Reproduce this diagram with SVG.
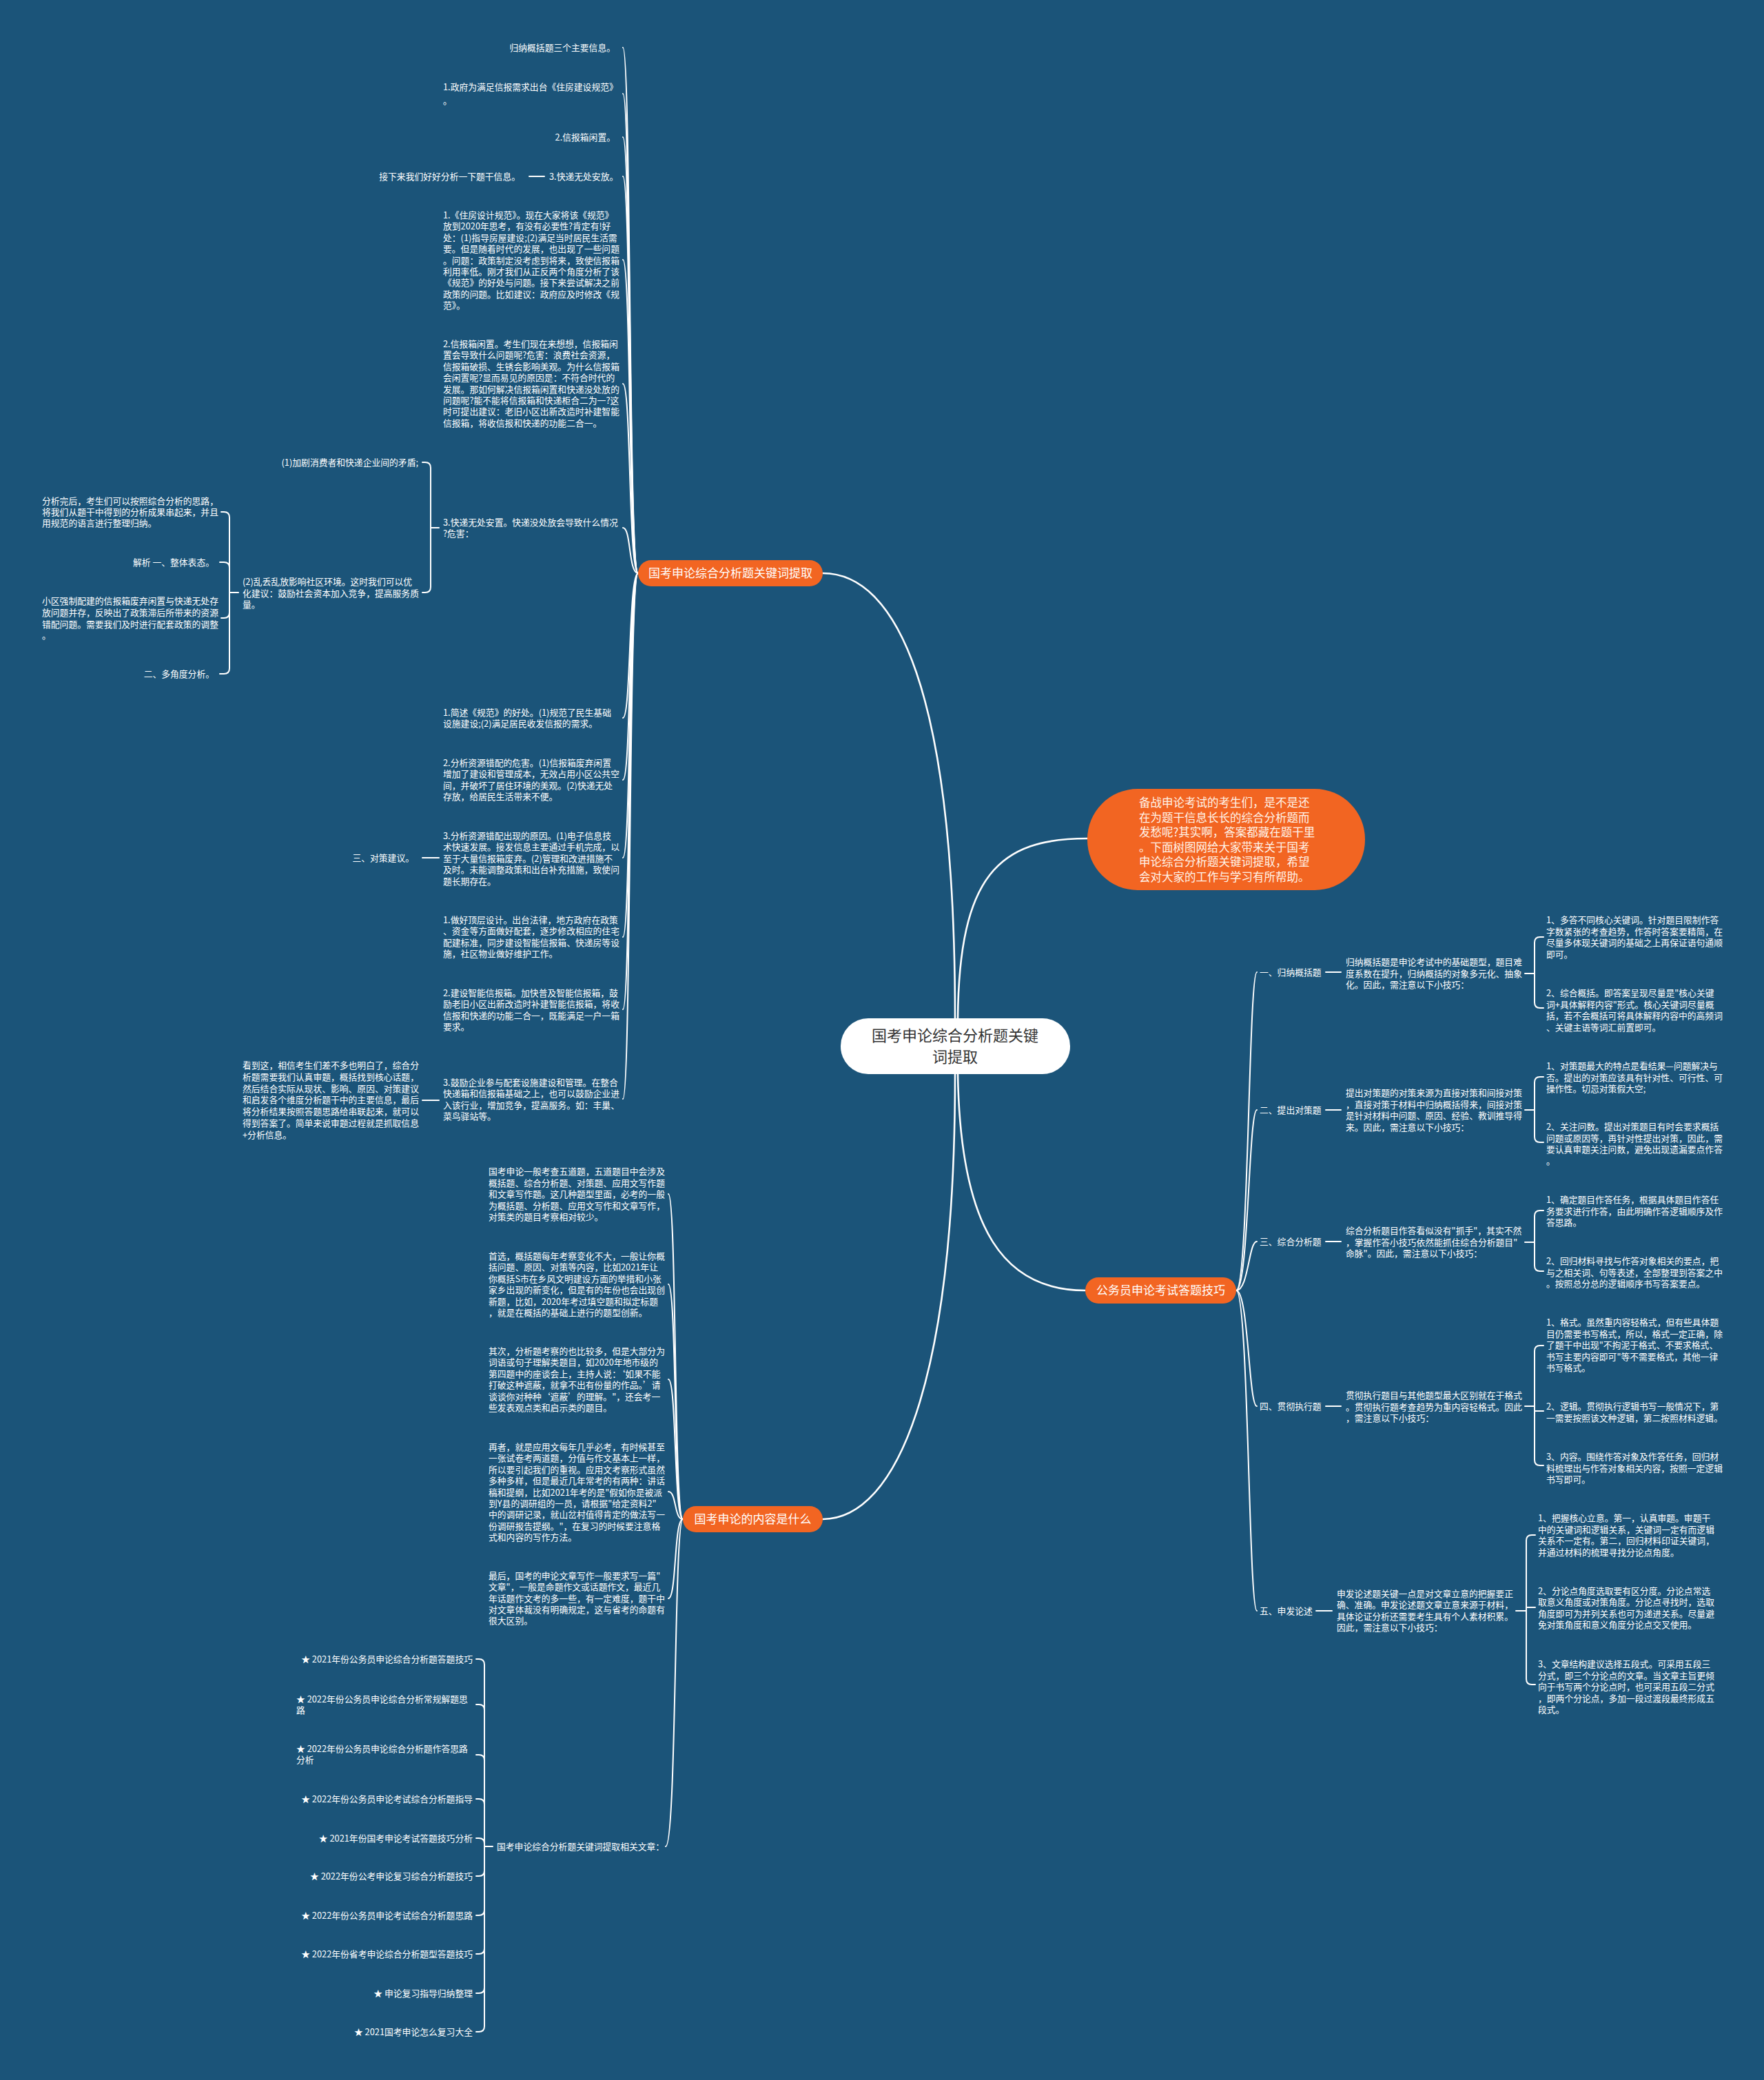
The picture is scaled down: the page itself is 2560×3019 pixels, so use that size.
<svg xmlns="http://www.w3.org/2000/svg" width="2560" height="3019" viewBox="0 0 2560 3019">
<style>
.t{font-family:"Noto Sans CJK SC","Microsoft YaHei",sans-serif;font-size:12.8px;fill:#ffffff}
.e{text-anchor:end}
.m{text-anchor:middle}
.b{font-size:17px}
.c{font-size:22px;fill:#333333}
.i{font-size:16.5px;fill:#fff4ea}
.ln{fill:none;stroke:#ffffff;stroke-width:2;stroke-linecap:round}
.mn{fill:none;stroke:#ffffff;stroke-width:2.6;stroke-linecap:round}
.pill{fill:#f26522}
</style>
<rect x="0" y="0" width="2560" height="3019" fill="#1b5479"/>

<g id="connectors">
<path class="mn" d="M1386,1478 C1386,1000 1300,832 1194,832"/>
<path class="mn" d="M1390,1478 C1392,1270 1450,1217 1578,1217"/>
<path class="mn" d="M1390,1559 C1394,1790 1460,1873 1575,1873"/>
<path class="mn" d="M1386,1559 C1386,2010 1300,2205 1194,2205"/>
<!-- branch 1 -->
<path class="ln" d="M926,832 C912,832 916,69 904,69"/>
<path class="ln" d="M926,832 C912,832 916,136 904,136"/>
<path class="ln" d="M926,832 C912,832 916,199 904,199"/>
<path class="ln" d="M926,832 C912,832 916,256 904,256"/>
<path class="ln" d="M926,832 C912,832 916,377 904,377"/>
<path class="ln" d="M926,832 C912,832 916,557 904,557"/>
<path class="ln" d="M926,832 C912,832 916,766 904,766"/>
<path class="ln" d="M926,832 C912,832 916,1042 904,1042"/>
<path class="ln" d="M926,832 C912,832 916,1132 904,1132"/>
<path class="ln" d="M926,832 C912,832 916,1245 904,1245"/>
<path class="ln" d="M926,832 C912,832 916,1360 904,1360"/>
<path class="ln" d="M926,832 C912,832 916,1465 904,1465"/>
<path class="ln" d="M926,832 C912,832 916,1595 904,1595"/>
<path class="ln" d="M768,256 H790"/>
<path class="ln" d="M637,766 H625"/>
<path class="ln" d="M625,766 V679 Q625,671 617,671 H613"/>
<path class="ln" d="M625,766 V852 Q625,860 617,860 H613"/>
<path class="ln" d="M346,860 H333"/>
<path class="ln" d="M333,860 V751 Q333,743 325,743 H321"/>
<path class="ln" d="M333,860 V824 Q333,816 325,816 H319"/>
<path class="ln" d="M333,860 V889 Q333,897 325,897 H321"/>
<path class="ln" d="M333,860 V970 Q333,978 325,978 H319"/>
<path class="ln" d="M613,1245 H637"/>
<path class="ln" d="M613,1597 H637"/>
<!-- branch 4 -->
<path class="ln" d="M991,2205 C978,2205 982,1733 970,1733"/>
<path class="ln" d="M991,2205 C978,2205 982,1864 970,1864"/>
<path class="ln" d="M991,2205 C978,2205 982,2002 970,2002"/>
<path class="ln" d="M991,2205 C978,2205 982,2165 970,2165"/>
<path class="ln" d="M991,2205 C978,2205 982,2320 970,2320"/>
<path class="ln" d="M991,2205 C978,2205 982,2680 966,2680"/>
<path class="ln" d="M715,2680 H703"/>
<path class="ln" d="M703,2680 V2416 Q703,2408 695,2408 H691"/>
<path class="ln" d="M703,2680 V2482 Q703,2474 695,2474 H691"/>
<path class="ln" d="M703,2680 V2555 Q703,2547 695,2547 H691"/>
<path class="ln" d="M703,2680 V2619 Q703,2611 695,2611 H691"/>
<path class="ln" d="M703,2680 V2676 Q703,2668 695,2668 H691"/>
<path class="ln" d="M703,2680 V2715 Q703,2723 695,2723 H691"/>
<path class="ln" d="M703,2680 V2772 Q703,2780 695,2780 H691"/>
<path class="ln" d="M703,2680 V2828 Q703,2836 695,2836 H691"/>
<path class="ln" d="M703,2680 V2885 Q703,2893 695,2893 H691"/>
<path class="ln" d="M703,2680 V2941 Q703,2949 695,2949 H691"/>
<!-- branch 3 -->
<path class="ln" d="M1794,1873 C1812,1873 1812,1411 1824,1411"/>
<path class="ln" d="M1794,1873 C1812,1873 1812,1611 1824,1611"/>
<path class="ln" d="M1794,1873 C1812,1873 1812,1802 1824,1802"/>
<path class="ln" d="M1794,1873 C1812,1873 1812,2041 1824,2041"/>
<path class="ln" d="M1794,1873 C1812,1873 1812,2338 1824,2338"/>
<path class="ln" d="M1924,1411 H1946"/>
<path class="ln" d="M1924,1611 H1946"/>
<path class="ln" d="M1924,1802 H1946"/>
<path class="ln" d="M1924,2041 H1946"/>
<path class="ln" d="M1910,2338 H1933"/>
<path class="ln" d="M2213,1413 H2227"/>
<path class="ln" d="M2227,1413 V1368 Q2227,1360 2235,1360 H2240"/>
<path class="ln" d="M2227,1413 V1455 Q2227,1463 2235,1463 H2240"/>
<path class="ln" d="M2213,1611 H2227"/>
<path class="ln" d="M2227,1611 V1571 Q2227,1563 2235,1563 H2240"/>
<path class="ln" d="M2227,1611 V1650 Q2227,1658 2235,1658 H2240"/>
<path class="ln" d="M2213,1803 H2227"/>
<path class="ln" d="M2227,1803 V1765 Q2227,1757 2235,1757 H2240"/>
<path class="ln" d="M2227,1803 V1837 Q2227,1845 2235,1845 H2240"/>
<path class="ln" d="M2213,2041 H2227"/>
<path class="ln" d="M2227,2041 V1961 Q2227,1953 2235,1953 H2240"/>
<path class="ln" d="M2227,2041 V2048 Q2227,2048 2235,2048 H2240"/>
<path class="ln" d="M2227,2041 V2119 Q2227,2127 2235,2127 H2240"/>
<path class="ln" d="M2200,2338 H2215"/>
<path class="ln" d="M2215,2338 V2236 Q2215,2228 2223,2228 H2228"/>
<path class="ln" d="M2215,2338 V2333 Q2215,2333 2223,2333 H2228"/>
<path class="ln" d="M2215,2338 V2437 Q2215,2445 2223,2445 H2228"/>
</g>

<g id="center">
<rect x="1220" y="1478" width="333" height="81" rx="40" fill="#ffffff"/>
<text class="t c m" x="1386" y="1511">国考申论综合分析题关键</text>
<text class="t c m" x="1386" y="1542">词提取</text>
</g>

<g id="intro">
<rect x="1578" y="1145" width="403" height="147" rx="73" class="pill"/>
<text class="t i" x="1653" y="1171"><tspan x="1653">备战申论考试的考生们，是不是还</tspan><tspan x="1653" dy="21.6">在为题干信息长长的综合分析题而</tspan><tspan x="1653" dy="21.6">发愁呢?其实啊，答案都藏在题干里</tspan><tspan x="1653" dy="21.6">。下面树图网给大家带来关于国考</tspan><tspan x="1653" dy="21.6">申论综合分析题关键词提取，希望</tspan><tspan x="1653" dy="21.6">会对大家的工作与学习有所帮助。</tspan></text>
</g>

<g id="branch1">
<rect x="926" y="813" width="268" height="38" rx="19" class="pill"/>
<text class="t b m" x="1060" y="838">国考申论综合分析题关键词提取</text>
</g>

<g id="b1-children">
<text class="t e" x="893" y="74">归纳概括题三个主要信息。</text>
<text class="t" x="643" y="131"><tspan x="643">1.政府为满足信报需求出台《住房建设规范》</tspan><tspan x="643" dy="20">。</tspan></text>
<text class="t e" x="893" y="204">2.信报箱闲置。</text>
<text class="t" x="797" y="261">3.快递无处安放。</text>
<text class="t e" x="755" y="261">接下来我们好好分析一下题干信息。</text>
<text class="t" x="643" y="317"><tspan x="643">1.《住房设计规范》。现在大家将该《规范》</tspan><tspan x="643" dy="16.4">放到2020年思考，有没有必要性?肯定有!好</tspan><tspan x="643" dy="16.4">处：(1)指导房屋建设;(2)满足当时居民生活需</tspan><tspan x="643" dy="16.4">要。但是随着时代的发展，也出现了一些问题</tspan><tspan x="643" dy="16.4">。问题：政策制定没考虑到将来，致使信报箱</tspan><tspan x="643" dy="16.4">利用率低。刚才我们从正反两个角度分析了该</tspan><tspan x="643" dy="16.4">《规范》的好处与问题。接下来尝试解决之前</tspan><tspan x="643" dy="16.4">政策的问题。比如建议：政府应及时修改《规</tspan><tspan x="643" dy="16.4">范》。</tspan></text>
<text class="t" x="643" y="504"><tspan x="643">2.信报箱闲置。考生们现在来想想，信报箱闲</tspan><tspan x="643" dy="16.4">置会导致什么问题呢?危害：浪费社会资源，</tspan><tspan x="643" dy="16.4">信报箱破损、生锈会影响美观。为什么信报箱</tspan><tspan x="643" dy="16.4">会闲置呢?显而易见的原因是：不符合时代的</tspan><tspan x="643" dy="16.4">发展。那如何解决信报箱闲置和快递没处放的</tspan><tspan x="643" dy="16.4">问题呢?能不能将信报箱和快递柜合二为一?这</tspan><tspan x="643" dy="16.4">时可提出建议：老旧小区出新改造时补建智能</tspan><tspan x="643" dy="16.4">信报箱，将收信报和快递的功能二合一。</tspan></text>
<text class="t" x="643" y="763"><tspan x="643">3.快递无处安置。快递没处放会导致什么情况</tspan><tspan x="643" dy="16.4">?危害：</tspan></text>
<text class="t e" x="607" y="676">(1)加剧消费者和快递企业间的矛盾;</text>
<text class="t" x="352" y="849"><tspan x="352">(2)乱丢乱放影响社区环境。这时我们可以优</tspan><tspan x="352" dy="16.5">化建议：鼓励社会资本加入竞争，提高服务质</tspan><tspan x="352" dy="16.5">量。</tspan></text>
<text class="t" x="61" y="732"><tspan x="61">分析完后，考生们可以按照综合分析的思路，</tspan><tspan x="61" dy="16.2">将我们从题干中得到的分析成果串起来，并且</tspan><tspan x="61" dy="16.2">用规范的语言进行整理归纳。</tspan></text>
<text class="t e" x="311" y="821">解析 一、整体表态。</text>
<text class="t" x="61" y="877"><tspan x="61">小区强制配建的信报箱废弃闲置与快递无处存</tspan><tspan x="61" dy="16.8">放问题并存，反映出了政策滞后所带来的资源</tspan><tspan x="61" dy="16.8">错配问题。需要我们及时进行配套政策的调整</tspan><tspan x="61" dy="16.8">。</tspan></text>
<text class="t e" x="311" y="983">二、多角度分析。</text>
<text class="t" x="643" y="1039"><tspan x="643">1.简述《规范》的好处。(1)规范了民生基础</tspan><tspan x="643" dy="16.4">设施建设;(2)满足居民收发信报的需求。</tspan></text>
<text class="t" x="643" y="1112"><tspan x="643">2.分析资源错配的危害。(1)信报箱废弃闲置</tspan><tspan x="643" dy="16.4">增加了建设和管理成本，无效占用小区公共空</tspan><tspan x="643" dy="16.4">间，并破坏了居住环境的美观。(2)快递无处</tspan><tspan x="643" dy="16.4">存放，给居民生活带来不便。</tspan></text>
<text class="t" x="643" y="1218"><tspan x="643">3.分析资源错配出现的原因。(1)电子信息技</tspan><tspan x="643" dy="16.4">术快速发展。接发信息主要通过手机完成，以</tspan><tspan x="643" dy="16.4">至于大量信报箱废弃。(2)管理和改进措施不</tspan><tspan x="643" dy="16.4">及时。未能调整政策和出台补充措施，致使问</tspan><tspan x="643" dy="16.4">题长期存在。</tspan></text>
<text class="t e" x="601" y="1250">三、对策建议。</text>
<text class="t" x="643" y="1340"><tspan x="643">1.做好顶层设计。出台法律，地方政府在政策</tspan><tspan x="643" dy="16.4">、资金等方面做好配套，逐步修改相应的住宅</tspan><tspan x="643" dy="16.4">配建标准，同步建设智能信报箱、快递房等设</tspan><tspan x="643" dy="16.4">施，社区物业做好维护工作。</tspan></text>
<text class="t" x="643" y="1446"><tspan x="643">2.建设智能信报箱。加快普及智能信报箱，鼓</tspan><tspan x="643" dy="16.4">励老旧小区出新改造时补建智能信报箱，将收</tspan><tspan x="643" dy="16.4">信报和快递的功能二合一，既能满足一户一箱</tspan><tspan x="643" dy="16.4">要求。</tspan></text>
<text class="t" x="643" y="1576"><tspan x="643">3.鼓励企业参与配套设施建设和管理。在整合</tspan><tspan x="643" dy="16.4">快递箱和信报箱基础之上，也可以鼓励企业进</tspan><tspan x="643" dy="16.4">入该行业，增加竞争，提高服务。如：丰巢、</tspan><tspan x="643" dy="16.4">菜鸟驿站等。</tspan></text>
<text class="t" x="352" y="1551"><tspan x="352">看到这，相信考生们差不多也明白了，综合分</tspan><tspan x="352" dy="16.8">析题需要我们认真审题，概括找到核心话题，</tspan><tspan x="352" dy="16.8">然后结合实际从现状、影响、原因、对策建议</tspan><tspan x="352" dy="16.8">和启发各个维度分析题干中的主要信息，最后</tspan><tspan x="352" dy="16.8">将分析结果按照答题思路给串联起来，就可以</tspan><tspan x="352" dy="16.8">得到答案了。简单来说审题过程就是抓取信息</tspan><tspan x="352" dy="16.8">+分析信息。</tspan></text>
</g>

<g id="branch3">
<rect x="1575" y="1854" width="219" height="38" rx="19" class="pill"/>
<text class="t b m" x="1684.5" y="1879">公务员申论考试答题技巧</text>
</g>

<g id="b3-children">
<text class="t" x="1828" y="1416">一、归纳概括题</text>
<text class="t" x="1953" y="1401"><tspan x="1953">归纳概括题是申论考试中的基础题型，题目难</tspan><tspan x="1953" dy="16.5">度系数在提升，归纳概括的对象多元化、抽象</tspan><tspan x="1953" dy="16.5">化。因此，需注意以下小技巧：</tspan></text>
<text class="t" x="2244" y="1340"><tspan x="2244">1、多答不同核心关键词。针对题目限制作答</tspan><tspan x="2244" dy="16.5">字数紧张的考查趋势，作答时答案要精简，在</tspan><tspan x="2244" dy="16.5">尽量多体现关键词的基础之上再保证语句通顺</tspan><tspan x="2244" dy="16.5">即可。</tspan></text>
<text class="t" x="2244" y="1446"><tspan x="2244">2、综合概括。即答案呈现尽量是"核心关键</tspan><tspan x="2244" dy="16.5">词+具体解释内容"形式。核心关键词尽量概</tspan><tspan x="2244" dy="16.5">括，若不会概括可将具体解释内容中的高频词</tspan><tspan x="2244" dy="16.5">、关键主语等词汇前置即可。</tspan></text>

<text class="t" x="1828" y="1616">二、提出对策题</text>
<text class="t" x="1953" y="1591"><tspan x="1953">提出对策题的对策来源为直接对策和间接对策</tspan><tspan x="1953" dy="16.5">，直接对策于材料中归纳概括得来，间接对策</tspan><tspan x="1953" dy="16.5">是针对材料中问题、原因、经验、教训推导得</tspan><tspan x="1953" dy="16.5">来。因此，需注意以下小技巧：</tspan></text>
<text class="t" x="2244" y="1552"><tspan x="2244">1、对策题最大的特点是看结果—问题解决与</tspan><tspan x="2244" dy="16.5">否。提出的对策应该具有针对性、可行性、可</tspan><tspan x="2244" dy="16.5">操作性。切忌对策假大空;</tspan></text>
<text class="t" x="2244" y="1640"><tspan x="2244">2、关注问数。提出对策题目有时会要求概括</tspan><tspan x="2244" dy="16.5">问题或原因等，再针对性提出对策，因此，需</tspan><tspan x="2244" dy="16.5">要认真审题关注问数，避免出现遗漏要点作答</tspan><tspan x="2244" dy="17">。</tspan></text>

<text class="t" x="1828" y="1807">三、综合分析题</text>
<text class="t" x="1953" y="1791"><tspan x="1953">综合分析题目作答看似没有"抓手"，其实不然</tspan><tspan x="1953" dy="16.5">，掌握作答小技巧依然能抓住综合分析题目"</tspan><tspan x="1953" dy="16.5">命脉"。因此，需注意以下小技巧：</tspan></text>
<text class="t" x="2244" y="1746"><tspan x="2244">1、确定题目作答任务，根据具体题目作答任</tspan><tspan x="2244" dy="16.5">务要求进行作答，由此明确作答逻辑顺序及作</tspan><tspan x="2244" dy="16.5">答思路。</tspan></text>
<text class="t" x="2244" y="1835"><tspan x="2244">2、回归材料寻找与作答对象相关的要点，把</tspan><tspan x="2244" dy="16.5">与之相关词、句等表述，全部整理到答案之中</tspan><tspan x="2244" dy="16.5">。按照总分总的逻辑顺序书写答案要点。</tspan></text>

<text class="t" x="1828" y="2046">四、贯彻执行题</text>
<text class="t" x="1953" y="2030"><tspan x="1953">贯彻执行题目与其他题型最大区别就在于格式</tspan><tspan x="1953" dy="16.5">。贯彻执行题考查趋势为重内容轻格式。因此</tspan><tspan x="1953" dy="16.5">，需注意以下小技巧：</tspan></text>
<text class="t" x="2244" y="1924"><tspan x="2244">1、格式。虽然重内容轻格式，但有些具体题</tspan><tspan x="2244" dy="16.5">目仍需要书写格式，所以，格式一定正确，除</tspan><tspan x="2244" dy="16.5">了题干中出现"不拘泥于格式、不要求格式、</tspan><tspan x="2244" dy="16.5">书写主要内容即可"等不需要格式，其他一律</tspan><tspan x="2244" dy="16.5">书写格式。</tspan></text>
<text class="t" x="2244" y="2046"><tspan x="2244">2、逻辑。贯彻执行逻辑书写一般情况下，第</tspan><tspan x="2244" dy="16.5">一需要按照该文种逻辑，第二按照材料逻辑。</tspan></text>
<text class="t" x="2244" y="2119"><tspan x="2244">3、内容。围绕作答对象及作答任务，回归材</tspan><tspan x="2244" dy="16.5">料梳理出与作答对象相关内容，按照一定逻辑</tspan><tspan x="2244" dy="16.5">书写即可。</tspan></text>

<text class="t" x="1828" y="2343">五、申发论述</text>
<text class="t" x="1940" y="2318"><tspan x="1940">申发论述题关键一点是对文章立意的把握要正</tspan><tspan x="1940" dy="16.4">确、准确。申发论述题文章立意来源于材料，</tspan><tspan x="1940" dy="16.4">具体论证分析还需要考生具有个人素材积累。</tspan><tspan x="1940" dy="16.4">因此，需注意以下小技巧：</tspan></text>
<text class="t" x="2232" y="2208"><tspan x="2232">1、把握核心立意。第一，认真审题。审题干</tspan><tspan x="2232" dy="16.6">中的关键词和逻辑关系，关键词一定有而逻辑</tspan><tspan x="2232" dy="16.6">关系不一定有。第二，回归材料印证关键词，</tspan><tspan x="2232" dy="16.6">并通过材料的梳理寻找分论点角度。</tspan></text>
<text class="t" x="2232" y="2314"><tspan x="2232">2、分论点角度选取要有区分度。分论点常选</tspan><tspan x="2232" dy="16.4">取意义角度或对策角度。分论点寻找时，选取</tspan><tspan x="2232" dy="16.4">角度即可为并列关系也可为递进关系。尽量避</tspan><tspan x="2232" dy="16.4">免对策角度和意义角度分论点交叉使用。</tspan></text>
<text class="t" x="2232" y="2420"><tspan x="2232">3、文章结构建议选择五段式。可采用五段三</tspan><tspan x="2232" dy="16.5">分式，即三个分论点的文章。当文章主旨更倾</tspan><tspan x="2232" dy="16.5">向于书写两个分论点时，也可采用五段二分式</tspan><tspan x="2232" dy="16.5">，即两个分论点，多加一段过渡段最终形成五</tspan><tspan x="2232" dy="16.5">段式。</tspan></text>
</g>

<g id="branch4">
<rect x="991" y="2186" width="203" height="38" rx="19" class="pill"/>
<text class="t b m" x="1092.5" y="2211">国考申论的内容是什么</text>
</g>

<g id="b4-children">
<text class="t" x="709" y="1705"><tspan x="709">国考申论一般考查五道题，五道题目中会涉及</tspan><tspan x="709" dy="16.5">概括题、综合分析题、对策题、应用文写作题</tspan><tspan x="709" dy="16.5">和文章写作题。这几种题型里面，必考的一般</tspan><tspan x="709" dy="16.5">为概括题、分析题、应用文写作和文章写作，</tspan><tspan x="709" dy="16.5">对策类的题目考察相对较少。</tspan></text>
<text class="t" x="709" y="1828"><tspan x="709">首选，概括题每年考察变化不大，一般让你概</tspan><tspan x="709" dy="16.4">括问题、原因、对策等内容，比如2021年让</tspan><tspan x="709" dy="16.4">你概括S市在乡风文明建设方面的举措和小张</tspan><tspan x="709" dy="16.4">家乡出现的新变化，但是有的年份也会出现创</tspan><tspan x="709" dy="16.4">新题，比如，2020年考过填空题和拟定标题</tspan><tspan x="709" dy="16.4">，就是在概括的基础上进行的题型创新。</tspan></text>
<text class="t" x="709" y="1966"><tspan x="709">其次，分析题考察的也比较多，但是大部分为</tspan><tspan x="709" dy="16.4">词语或句子理解类题目，如2020年地市级的</tspan><tspan x="709" dy="16.4">第四题中的座谈会上，主持人说：‘如果不能</tspan><tspan x="709" dy="16.4">打破这种遮蔽，就拿不出有份量的作品。’请</tspan><tspan x="709" dy="16.4">谈谈你对种种‘遮蔽’的理解。"，还会考一</tspan><tspan x="709" dy="16.4">些发表观点类和启示类的题目。</tspan></text>
<text class="t" x="709" y="2105"><tspan x="709">再者，就是应用文每年几乎必考，有时候甚至</tspan><tspan x="709" dy="16.4">一张试卷考两道题，分值与作文基本上一样，</tspan><tspan x="709" dy="16.4">所以要引起我们的重视。应用文考察形式虽然</tspan><tspan x="709" dy="16.4">多种多样，但是最近几年常考的有两种：讲话</tspan><tspan x="709" dy="16.4">稿和提纲，比如2021年考的是"假如你是被派</tspan><tspan x="709" dy="16.4">到Y县的调研组的一员，请根据"给定资料2"</tspan><tspan x="709" dy="16.4">中的调研记录，就山岔村值得肯定的做法写一</tspan><tspan x="709" dy="16.4">份调研报告提纲。"，在复习的时候要注意格</tspan><tspan x="709" dy="16.4">式和内容的写作方法。</tspan></text>
<text class="t" x="709" y="2292"><tspan x="709">最后，国考的申论文章写作一般要求写一篇"</tspan><tspan x="709" dy="16.3">文章"，一般是命题作文或话题作文，最近几</tspan><tspan x="709" dy="16.3">年话题作文考的多一些，有一定难度，题干中</tspan><tspan x="709" dy="16.3">对文章体裁没有明确规定，这与省考的命题有</tspan><tspan x="709" dy="16.3">很大区别。</tspan></text>
<text class="t" x="721" y="2685">国考申论综合分析题关键词提取相关文章：</text>
<text class="t e" x="686" y="2413">★ 2021年份公务员申论综合分析题答题技巧</text>
<text class="t" x="430" y="2471"><tspan x="430">★ 2022年份公务员申论综合分析常规解题思</tspan><tspan x="430" dy="16.2">路</tspan></text>
<text class="t" x="430" y="2543"><tspan x="430">★ 2022年份公务员申论综合分析题作答思路</tspan><tspan x="430" dy="16.2">分析</tspan></text>
<text class="t e" x="686" y="2616">★ 2022年份公务员申论考试综合分析题指导</text>
<text class="t e" x="686" y="2673">★ 2021年份国考申论考试答题技巧分析</text>
<text class="t e" x="686" y="2728">★ 2022年份公考申论复习综合分析题技巧</text>
<text class="t e" x="686" y="2785">★ 2022年份公务员申论考试综合分析题思路</text>
<text class="t e" x="686" y="2841">★ 2022年份省考申论综合分析题型答题技巧</text>
<text class="t e" x="686" y="2898">★ 申论复习指导归纳整理</text>
<text class="t e" x="686" y="2954">★ 2021国考申论怎么复习大全</text>
</g>
</svg>
